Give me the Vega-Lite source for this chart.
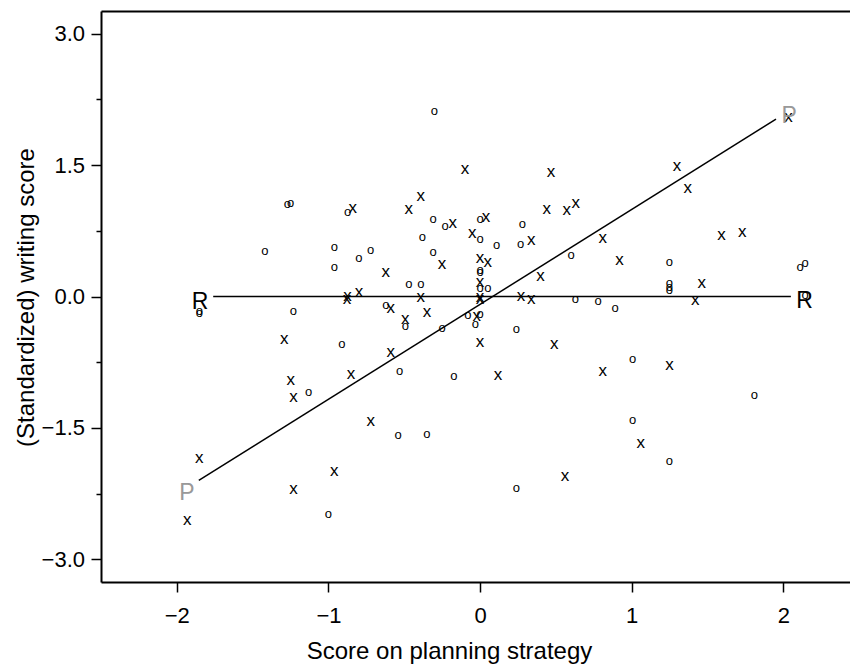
{
  "$schema": "https://vega.github.io/schema/vega-lite/v6.json",
  "width": 749,
  "height": 571,
  "autosize": "none",
  "padding": {"left": 101, "top": 11, "right": 0, "bottom": 82},
  "background": "white",
  "config": {
    "view": {"stroke": null},
    "font": "Liberation Sans",
    "axis": {
      "grid": false,
      "domainColor": "black",
      "domainWidth": 2,
      "tickColor": "black",
      "tickWidth": 1.5,
      "labelColor": "black",
      "labelFont": "Liberation Sans",
      "labelFontSize": 22,
      "titleFont": "Liberation Sans",
      "titleFontSize": 24,
      "titleFontWeight": "normal",
      "titleColor": "black"
    }
  },
  "datasets": {
    "points": [
      {"s":"o","x":-1.271,"y":1.057},{"s":"o","x":-1.249,"y":1.072},{"s":"o","x":-0.873,"y":0.962},{"s":"o","x":-1.420,"y":0.521},
      {"s":"o","x":-0.961,"y":0.570},{"s":"o","x":-0.961,"y":0.342},{"s":"o","x":-0.800,"y":0.438},{"s":"o","x":-0.721,"y":0.525},
      {"s":"o","x":-1.852,"y":-0.169},{"s":"o","x":-1.852,"y":-0.186},{"s":"o","x":-1.231,"y":-0.171},{"s":"o","x":-0.912,"y":-0.539},
      {"s":"o","x":-1.130,"y":-1.087},{"s":"o","x":-1.001,"y":-2.478},{"s":"o","x":-0.301,"y":2.121},{"s":"o","x":-0.310,"y":0.883},
      {"s":"o","x":-0.231,"y":0.806},{"s":"o","x":0.0,"y":0.883},{"s":"o","x":0.0,"y":0.661},{"s":"o","x":0.110,"y":0.593},
      {"s":"o","x":0.279,"y":0.826},{"s":"o","x":0.268,"y":0.604},{"s":"o","x":-0.381,"y":0.684},{"s":"o","x":-0.310,"y":0.506},
      {"s":"o","x":0.0,"y":0.304},{"s":"o","x":0.0,"y":0.278},{"s":"o","x":-0.470,"y":0.137},{"s":"o","x":-0.391,"y":0.137},
      {"s":"o","x":0.0,"y":0.096},{"s":"o","x":0.051,"y":0.096},{"s":"o","x":0.629,"y":-0.026},{"s":"o","x":0.778,"y":-0.057},
      {"s":"o","x":-0.622,"y":-0.095},{"s":"o","x":-0.493,"y":-0.342},{"s":"o","x":-0.081,"y":-0.209},{"s":"o","x":0.0,"y":-0.197},
      {"s":"o","x":-0.031,"y":-0.315},{"s":"o","x":-0.251,"y":-0.360},{"s":"o","x":0.239,"y":-0.372},{"s":"o","x":-0.530,"y":-0.847},
      {"s":"o","x":-0.172,"y":-0.912},{"s":"o","x":-0.541,"y":-1.577},{"s":"o","x":-0.350,"y":-1.566},{"s":"o","x":0.239,"y":-2.185},
      {"s":"o","x":0.600,"y":0.479},{"s":"o","x":1.249,"y":0.388},{"s":"o","x":2.111,"y":0.331},{"s":"o","x":2.144,"y":0.381},
      {"s":"o","x":1.249,"y":0.153},{"s":"o","x":1.249,"y":0.114},{"s":"o","x":1.249,"y":0.076},{"s":"o","x":2.144,"y":0.019},
      {"s":"o","x":0.891,"y":-0.132},{"s":"o","x":1.007,"y":-0.714},{"s":"o","x":1.809,"y":-1.124},{"s":"o","x":1.007,"y":-1.406},
      {"s":"o","x":1.249,"y":-1.882},
      {"s":"x","x":-0.840,"y":1.008},{"s":"x","x":-0.877,"y":-0.026},{"s":"x","x":-0.874,"y":0.008},{"s":"x","x":-0.798,"y":0.050},
      {"s":"x","x":-1.291,"y":-0.486},{"s":"x","x":-1.249,"y":-0.950},{"s":"x","x":-1.231,"y":-1.147},{"s":"x","x":-0.851,"y":-0.881},
      {"s":"x","x":-0.721,"y":-1.425},{"s":"x","x":-1.852,"y":-1.847},{"s":"x","x":-1.931,"y":-2.554},{"s":"x","x":-0.961,"y":-1.988},
      {"s":"x","x":-1.231,"y":-2.196},{"s":"x","x":-0.099,"y":1.456},{"s":"x","x":0.468,"y":1.422},{"s":"x","x":-0.391,"y":1.148},
      {"s":"x","x":-0.470,"y":1.000},{"s":"x","x":-0.180,"y":0.837},{"s":"x","x":0.040,"y":0.905},{"s":"x","x":-0.051,"y":0.730},
      {"s":"x","x":0.338,"y":0.639},{"s":"x","x":0.440,"y":1.000},{"s":"x","x":0.572,"y":0.989},{"s":"x","x":0.631,"y":1.072},
      {"s":"x","x":-0.251,"y":0.376},{"s":"x","x":-0.622,"y":0.274},{"s":"x","x":0.0,"y":0.438},{"s":"x","x":0.051,"y":0.396},
      {"s":"x","x":0.0,"y":0.160},{"s":"x","x":-0.391,"y":0.0},{"s":"x","x":0.0,"y":0.0},{"s":"x","x":0.0,"y":-0.032},
      {"s":"x","x":0.270,"y":0.008},{"s":"x","x":0.338,"y":-0.026},{"s":"x","x":0.399,"y":0.238},{"s":"x","x":-0.589,"y":-0.132},
      {"s":"x","x":-0.493,"y":-0.254},{"s":"x","x":-0.350,"y":-0.178},{"s":"x","x":-0.022,"y":-0.217},{"s":"x","x":0.0,"y":-0.520},
      {"s":"x","x":0.490,"y":-0.539},{"s":"x","x":-0.589,"y":-0.634},{"s":"x","x":0.119,"y":-0.893},{"s":"x","x":0.561,"y":-2.053},
      {"s":"x","x":2.034,"y":2.053},{"s":"x","x":1.299,"y":1.490},{"s":"x","x":1.370,"y":1.236},{"s":"x","x":0.809,"y":0.666},
      {"s":"x","x":1.592,"y":0.704},{"s":"x","x":1.730,"y":0.734},{"s":"x","x":0.919,"y":0.418},{"s":"x","x":1.462,"y":0.153},
      {"s":"x","x":1.420,"y":-0.038},{"s":"x","x":0.809,"y":-0.847},{"s":"x","x":1.249,"y":-0.782},{"s":"x","x":1.060,"y":-1.672}
    ],
    "lines": [
      {"line":"R","x":-1.76,"y":0.0},{"line":"R","x":2.05,"y":0.0},
      {"line":"P","x":-1.855,"y":-2.098},{"line":"P","x":1.952,"y":2.023}
    ],
    "labels": [
      {"label":"R","x":-1.847,"y":-0.064},{"label":"R","x":2.140,"y":-0.056},
      {"label":"P","x":-1.933,"y":-2.238},{"label":"P","x":2.038,"y":2.057}
    ]
  },
  "layer": [
    {
      "data": {"name": "lines"},
      "mark": {"type": "line", "color": "black", "strokeWidth": 1.5},
      "encoding": {
        "x": {"field": "x", "type": "quantitative", "scale": {"domain": [-2.5, 2.44], "nice": false, "zero": false},
              "axis": {"orient": "bottom", "values": [-2, -1.5, -1, -0.5, 0, 0.5, 1, 1.5, 2], "format": "d",
                       "labelExpr": "datum.value % 1 === 0 ? datum.label : ''",
                       "tickSize": {"condition": {"test": "datum.value % 1 !== 0", "value": 5}, "value": 10},
                       "labelPadding": 13,
                       "title": "Score on planning strategy", "titleX": 348, "titleY": 76, "titleBaseline": "alphabetic", "titleAlign": "center"}},
        "y": {"field": "y", "type": "quantitative", "scale": {"domain": [-3.257, 3.257], "nice": false, "zero": false},
              "axis": {"orient": "left", "values": [-3, -2.25, -1.5, -0.75, 0, 0.75, 1.5, 2.25, 3], "format": ".1f",
                       "labelExpr": "abs(datum.value) % 1.5 === 0 ? datum.label : ''",
                       "tickSize": {"condition": {"test": "abs(datum.value) % 1.5 !== 0", "value": 5}, "value": 10},
                       "labelPadding": 6.5,
                       "title": "(Standardized) writing score", "titleX": -68, "titleY": 286, "titleBaseline": "alphabetic", "titleAlign": "center", "titleAngle": -90}},
        "detail": {"field": "line", "type": "nominal"}
      }
    },
    {
      "data": {"name": "points"},
      "transform": [{"filter": "datum.s === 'x'"}],
      "mark": {"type": "text", "fontSize": 17, "color": "black", "align": "center", "baseline": "middle", "font": "Liberation Sans"},
      "encoding": {
        "x": {"field": "x", "type": "quantitative",
              "axis": {"orient": "top", "labels": false, "ticks": false, "domain": true, "title": null}},
        "y": {"field": "y", "type": "quantitative", "axis": null},
        "text": {"field": "s", "type": "nominal"}
      }
    },
    {
      "data": {"name": "points"},
      "transform": [{"filter": "datum.s === 'o'"}],
      "mark": {"type": "text", "fontSize": 13, "color": "black", "align": "center", "baseline": "middle", "font": "Liberation Sans"},
      "encoding": {
        "x": {"field": "x", "type": "quantitative", "axis": null},
        "y": {"field": "y", "type": "quantitative", "axis": null},
        "text": {"field": "s", "type": "nominal"}
      }
    },
    {
      "data": {"name": "labels"},
      "transform": [{"filter": "datum.label === 'R'"}],
      "mark": {"type": "text", "fontSize": 23, "color": "black", "align": "center", "baseline": "middle", "font": "Liberation Sans"},
      "encoding": {
        "x": {"field": "x", "type": "quantitative", "axis": null},
        "y": {"field": "y", "type": "quantitative", "axis": null},
        "text": {"field": "label", "type": "nominal"}
      }
    },
    {
      "data": {"name": "labels"},
      "transform": [{"filter": "datum.label === 'P'"}],
      "mark": {"type": "text", "fontSize": 23, "color": "#999999", "align": "center", "baseline": "middle", "font": "Liberation Sans"},
      "encoding": {
        "x": {"field": "x", "type": "quantitative", "axis": null},
        "y": {"field": "y", "type": "quantitative", "axis": null},
        "text": {"field": "label", "type": "nominal"}
      }
    }
  ],
  "resolve": {"axis": {"x": "independent", "y": "independent"}}
}
